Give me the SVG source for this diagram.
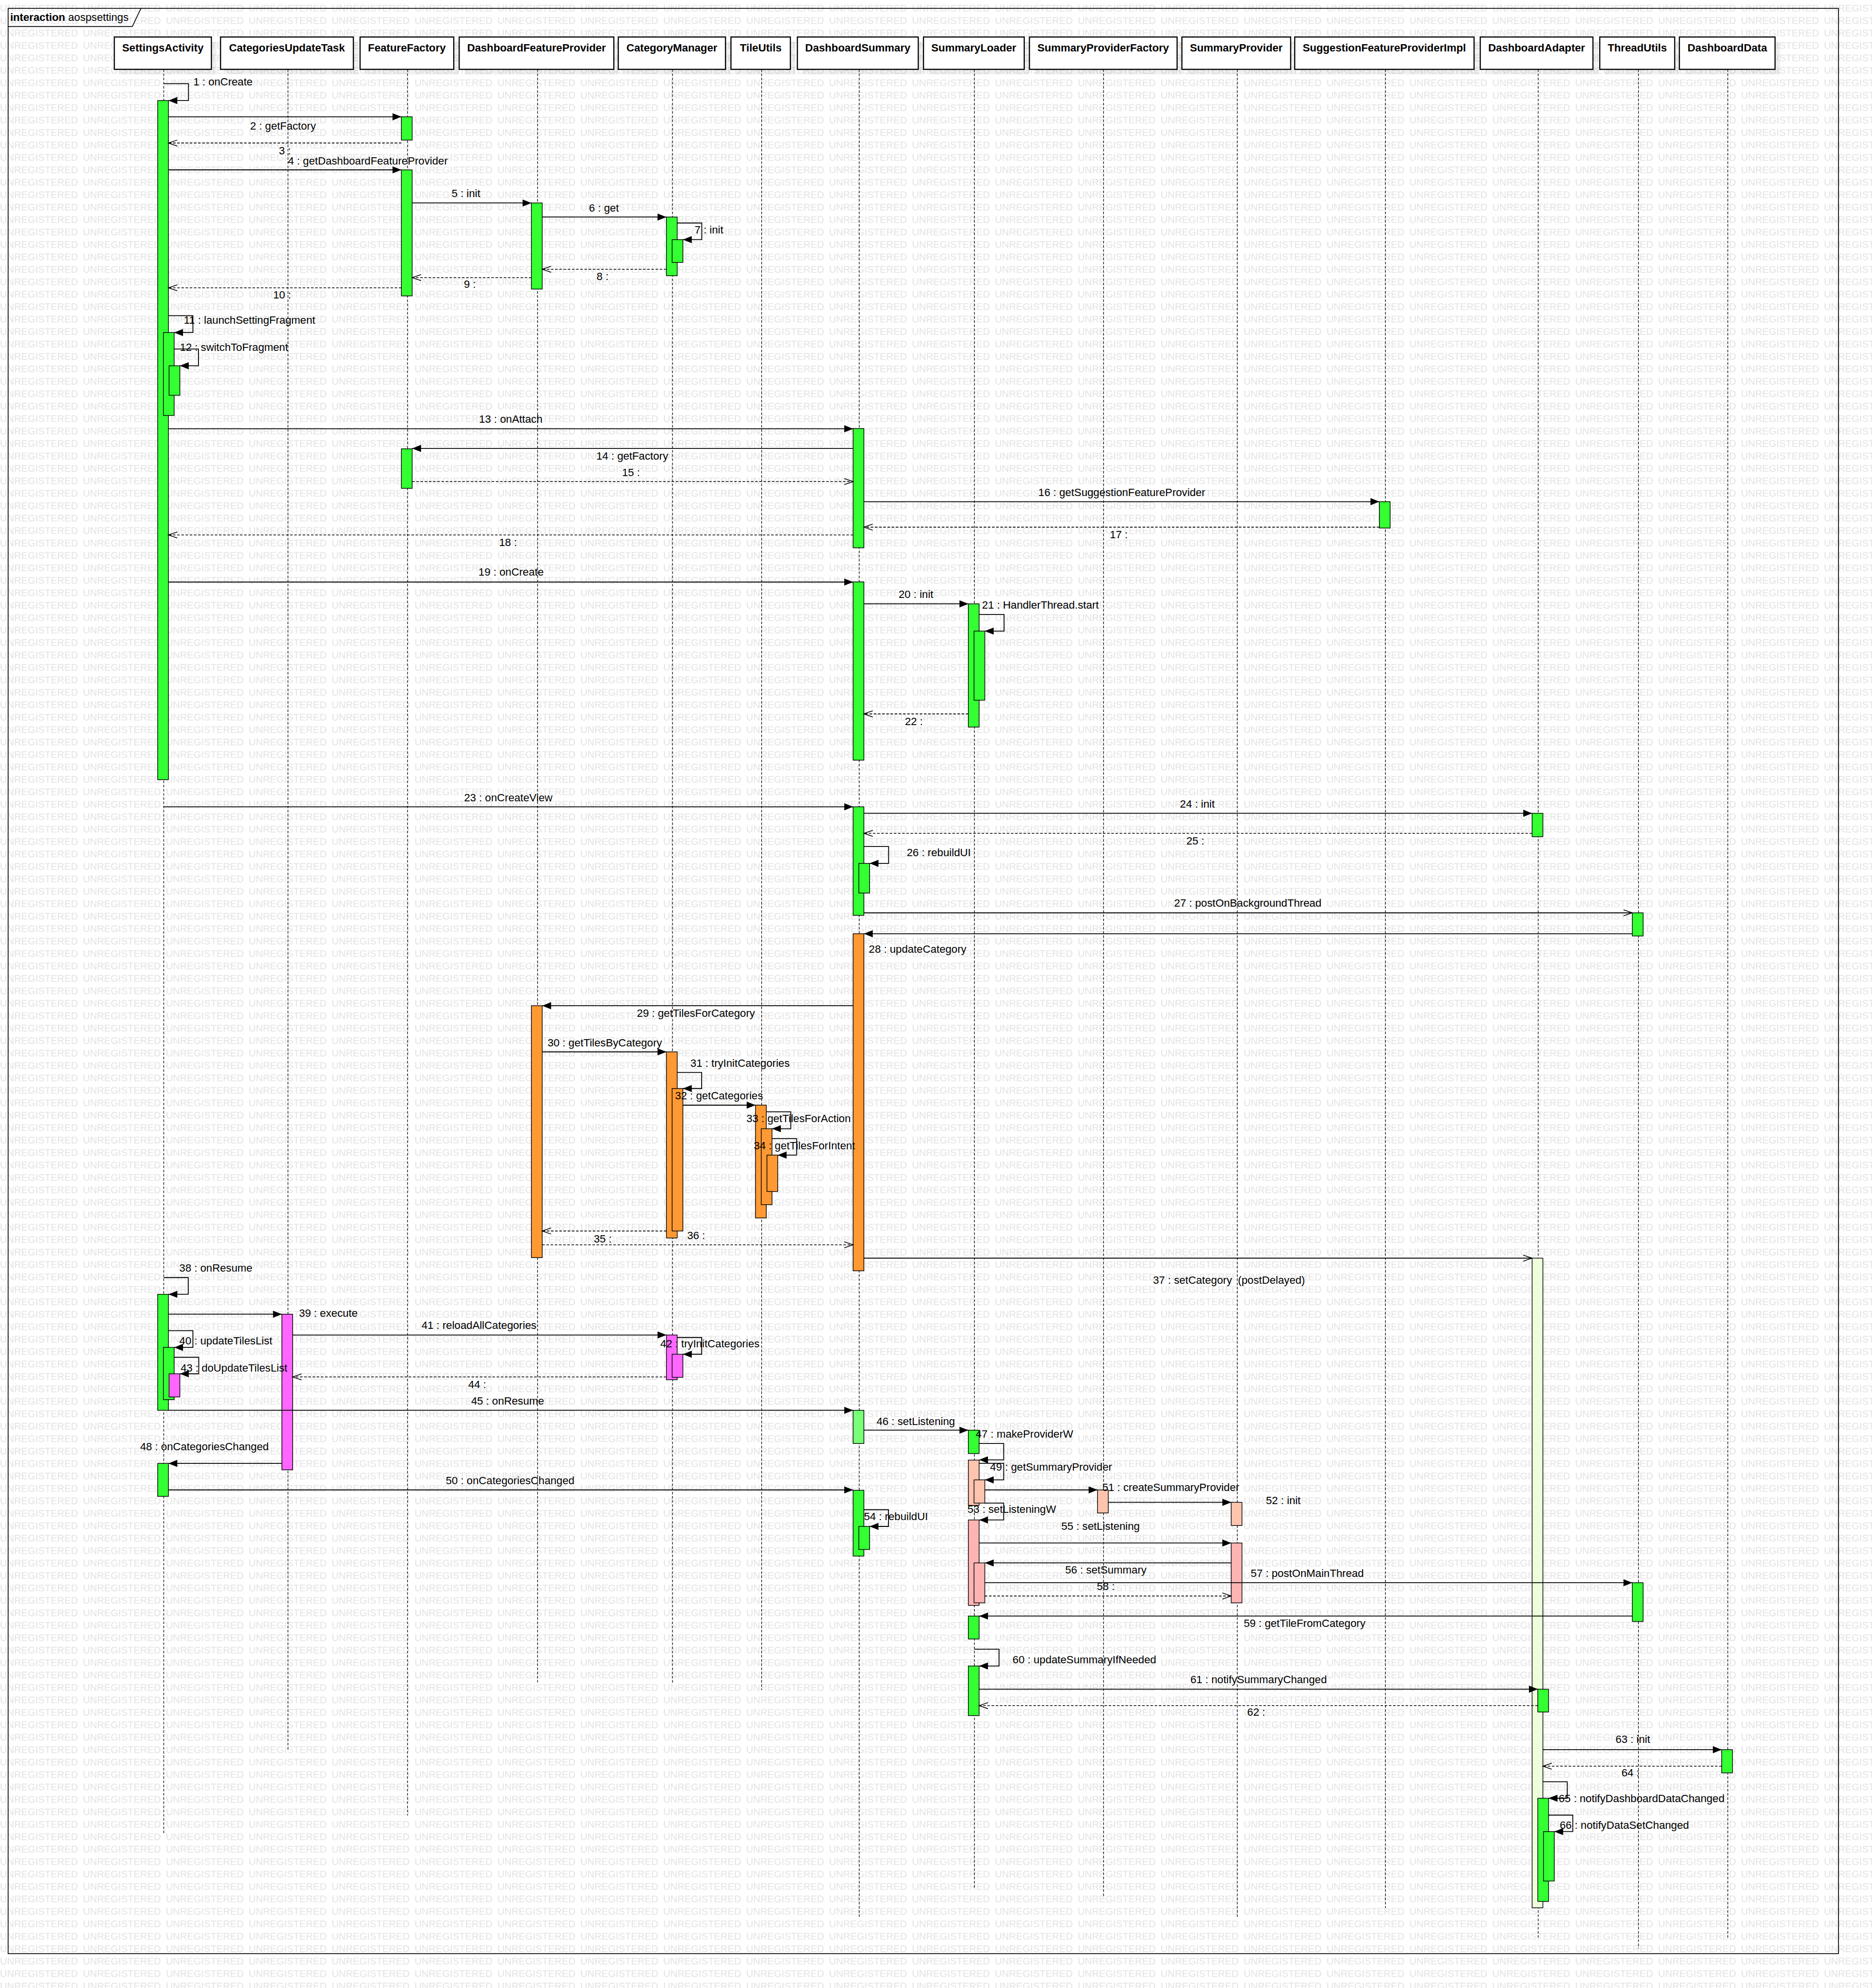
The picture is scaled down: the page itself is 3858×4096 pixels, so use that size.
<svg xmlns="http://www.w3.org/2000/svg" width="3858" height="4096" viewBox="0 0 3858 4096">
<defs>
<style>
.hb{fill:#fff;stroke:#000;stroke-width:0.9}
.sh{fill:#000;fill-opacity:0.06}
.ht{font-family:"Liberation Sans",Arial,sans-serif;font-weight:bold;font-size:8.5px;text-anchor:middle;fill:#000}
.ll{stroke:#000;stroke-width:0.5;stroke-dasharray:2 1.3;fill:none}
.b{stroke:#000;stroke-width:0.55}
.g{fill:#33ff33}.o{fill:#ff9933}.m{fill:#ff66ff}.s{fill:#ffc4ae}.p{fill:#ffb4b4}.pg{fill:#eefddb}.lg{fill:#77ff77}
.c{stroke:#000;stroke-width:0.7;fill:none;marker-end:url(#fa)}
.r{stroke:#000;stroke-width:0.6;fill:none;stroke-dasharray:2 1.3;marker-end:url(#oa)}
.a{stroke:#000;stroke-width:0.7;fill:none;marker-end:url(#oa)}
.t{font-family:"Liberation Sans",Arial,sans-serif;font-size:8.5px;fill:#000}
.wm{font-family:"Liberation Sans",Arial,sans-serif;font-size:7.4px;fill:#e2e2e2}
</style>
<marker id="fa" markerUnits="userSpaceOnUse" markerWidth="7" markerHeight="5.6" refX="7" refY="2.8" orient="auto" viewBox="0 0 7 5.6" overflow="visible"><path d="M0,0 L7,2.8 L0,5.6 z" fill="#000"/></marker>
<marker id="oa" markerUnits="userSpaceOnUse" markerWidth="7" markerHeight="4.8" refX="7" refY="2.4" orient="auto" viewBox="0 0 7 4.8" overflow="visible"><path d="M0,0 L7,2.4 L0,4.8" fill="none" stroke="#000" stroke-width="0.6"/></marker>
<pattern id="wmp" patternUnits="userSpaceOnUse" x="0" y="0" width="65.41" height="9.812"><text class="wm" x="0" y="9.2" textLength="61.5" lengthAdjust="spacingAndGlyphs">UNREGISTERED</text></pattern>
</defs>
<g transform="scale(2.6121)">
<rect x="0" y="0" width="1477" height="1568" fill="#fff"/>
<rect x="0" y="0" width="1477" height="1568" fill="url(#wmp)"/>
<g id="frame">
<rect x="6.4" y="6.6" width="1444.1" height="1534.4" fill="none" stroke="#000" stroke-width="0.65"/>
<path d="M6.4,20.9 H104.4 L111.2,6.6" fill="none" stroke="#000" stroke-width="0.65"/>
<text class="t" x="8" y="16.3"><tspan font-weight="bold">interaction</tspan> aospsettings</text>
</g>
<g id="SettingsActivity">
<rect class="sh" x="94.2" y="33.2" width="76.6" height="25.5"/><rect class="hb" x="90.2" y="29.2" width="76.6" height="25.5"/><text class="ht" x="128.5" y="40.4">SettingsActivity</text>
<line class="ll" x1="129.2" y1="54.7" x2="129.2" y2="1447"/>
<rect class="b g" x="124.4" y="79.3" width="8.5" height="535.7"/>
<rect class="b g" x="128.9" y="262.3" width="8.5" height="65.4"/>
<rect class="b g" x="133.4" y="288.5" width="8.5" height="23.3"/>
<rect class="b g" x="124.4" y="1020.9" width="8.5" height="91.5"/>
<rect class="b g" x="128.9" y="1062.8" width="8.5" height="41.2"/>
<rect class="b m" x="133.4" y="1083.6" width="8.5" height="18.3"/>
<rect class="b g" x="124.4" y="1154.3" width="8.5" height="26"/>
</g>
<g id="CategoriesUpdateTask">
<rect class="sh" x="178" y="33.2" width="104.8" height="25.5"/><rect class="hb" x="174" y="29.2" width="104.8" height="25.5"/><text class="ht" x="226.4" y="40.4">CategoriesUpdateTask</text>
<line class="ll" x1="227.2" y1="54.7" x2="227.2" y2="1380"/>
<rect class="b m" x="222.4" y="1036.6" width="8.5" height="122.8"/>
</g>
<g id="FeatureFactory">
<rect class="sh" x="288.1" y="33.2" width="73.9" height="25.5"/><rect class="hb" x="284.1" y="29.2" width="73.9" height="25.5"/><text class="ht" x="321" y="40.4">FeatureFactory</text>
<line class="ll" x1="321.5" y1="54.7" x2="321.5" y2="1432"/>
<rect class="b g" x="316.7" y="92.1" width="8.5" height="18.4"/>
<rect class="b g" x="316.7" y="134" width="8.5" height="99.4"/>
<rect class="b g" x="316.7" y="354" width="8.5" height="31.2"/>
</g>
<g id="DashboardFeatureProvider">
<rect class="sh" x="366.3" y="33.2" width="122" height="25.5"/><rect class="hb" x="362.3" y="29.2" width="122" height="25.5"/><text class="ht" x="423.3" y="40.4">DashboardFeatureProvider</text>
<line class="ll" x1="424.1" y1="54.7" x2="424.1" y2="1327"/>
<rect class="b g" x="419.3" y="160.1" width="8.5" height="67.9"/>
<rect class="b o" x="419.3" y="793.3" width="8.5" height="198.7"/>
</g>
<g id="CategoryManager">
<rect class="sh" x="491.8" y="33.2" width="84.6" height="25.5"/><rect class="hb" x="487.8" y="29.2" width="84.6" height="25.5"/><text class="ht" x="530.1" y="40.4">CategoryManager</text>
<line class="ll" x1="530.6" y1="54.7" x2="530.6" y2="1328"/>
<rect class="b g" x="525.8" y="171.2" width="8.5" height="46.3"/>
<rect class="b g" x="530.3" y="189" width="8.5" height="18"/>
<rect class="b o" x="525.8" y="829.7" width="8.5" height="146.8"/>
<rect class="b o" x="530.3" y="858.6" width="8.5" height="112.4"/>
<rect class="b m" x="525.8" y="1053" width="8.5" height="35.3"/>
<rect class="b m" x="530.3" y="1068.2" width="8.5" height="18.2"/>
</g>
<g id="TileUtils">
<rect class="sh" x="580.7" y="33.2" width="46.9" height="25.5"/><rect class="hb" x="576.7" y="29.2" width="46.9" height="25.5"/><text class="ht" x="600.2" y="40.4">TileUtils</text>
<line class="ll" x1="600.9" y1="54.7" x2="600.9" y2="1333"/>
<rect class="b o" x="596.1" y="871.7" width="8.5" height="89"/>
<rect class="b o" x="600.6" y="890.3" width="8.5" height="59.9"/>
<rect class="b o" x="605.1" y="911.1" width="8.5" height="28.7"/>
</g>
<g id="DashboardSummary">
<rect class="sh" x="633.1" y="33.2" width="95.4" height="25.5"/><rect class="hb" x="629.1" y="29.2" width="95.4" height="25.5"/><text class="ht" x="676.8" y="40.4">DashboardSummary</text>
<line class="ll" x1="677.9" y1="54.7" x2="677.9" y2="1513"/>
<rect class="b g" x="673.1" y="338" width="8.5" height="94.1"/>
<rect class="b g" x="673.1" y="459" width="8.5" height="140.6"/>
<rect class="b g" x="673.1" y="636.4" width="8.5" height="85.6"/>
<rect class="b g" x="677.6" y="681" width="8.5" height="23.4"/>
<rect class="b o" x="673.1" y="736.5" width="8.5" height="265.9"/>
<rect class="b lg" x="673.1" y="1112.4" width="8.5" height="26.2"/>
<rect class="b g" x="673.1" y="1175.5" width="8.5" height="51.9"/>
<rect class="b g" x="677.6" y="1204" width="8.5" height="18.2"/>
</g>
<g id="SummaryLoader">
<rect class="sh" x="732.6" y="33.2" width="79.5" height="25.5"/><rect class="hb" x="728.6" y="29.2" width="79.5" height="25.5"/><text class="ht" x="768.3" y="40.4">SummaryLoader</text>
<line class="ll" x1="768.8" y1="54.7" x2="768.8" y2="1490"/>
<rect class="b g" x="764" y="476.3" width="8.5" height="97.2"/>
<rect class="b g" x="768.5" y="497.8" width="8.5" height="54.5"/>
<rect class="b g" x="764" y="1128.1" width="8.5" height="18.4"/>
<rect class="b s" x="764" y="1151.7" width="8.5" height="35.7"/>
<rect class="b s" x="768.5" y="1167.3" width="8.5" height="18.3"/>
<rect class="b p" x="764" y="1198.9" width="8.5" height="67.4"/>
<rect class="b p" x="768.5" y="1232.8" width="8.5" height="31.5"/>
<rect class="b g" x="764" y="1274.7" width="8.5" height="18.1"/>
<rect class="b g" x="764" y="1314.1" width="8.5" height="39.1"/>
</g>
<g id="SummaryProviderFactory">
<rect class="sh" x="816.2" y="33.2" width="116.5" height="25.5"/><rect class="hb" x="812.2" y="29.2" width="116.5" height="25.5"/><text class="ht" x="870.4" y="40.4">SummaryProviderFactory</text>
<line class="ll" x1="870.7" y1="54.7" x2="870.7" y2="1497"/>
<rect class="b s" x="865.9" y="1175.2" width="8.5" height="18.2"/>
</g>
<g id="SummaryProvider">
<rect class="sh" x="936.5" y="33.2" width="85.8" height="25.5"/><rect class="hb" x="932.5" y="29.2" width="85.8" height="25.5"/><text class="ht" x="975.4" y="40.4">SummaryProvider</text>
<line class="ll" x1="976.2" y1="54.7" x2="976.2" y2="1513"/>
<rect class="b s" x="971.4" y="1185" width="8.5" height="18.3"/>
<rect class="b p" x="971.4" y="1217.1" width="8.5" height="47.2"/>
</g>
<g id="SuggestionFeatureProviderImpl">
<rect class="sh" x="1025.5" y="33.2" width="141.5" height="25.5"/><rect class="hb" x="1021.5" y="29.2" width="141.5" height="25.5"/><text class="ht" x="1092.2" y="40.4">SuggestionFeatureProviderImpl</text>
<line class="ll" x1="1093.1" y1="54.7" x2="1093.1" y2="1505"/>
<rect class="b g" x="1088.3" y="395.7" width="8.5" height="20.8"/>
</g>
<g id="DashboardAdapter">
<rect class="sh" x="1171.9" y="33.2" width="88.9" height="25.5"/><rect class="hb" x="1167.9" y="29.2" width="88.9" height="25.5"/><text class="ht" x="1212.4" y="40.4">DashboardAdapter</text>
<line class="ll" x1="1213.6" y1="54.7" x2="1213.6" y2="1530"/>
<rect class="b g" x="1208.8" y="641.5" width="8.5" height="18.5"/>
<rect class="b pg" x="1208.8" y="992.4" width="8.5" height="512.4"/>
<rect class="b g" x="1213.3" y="1332.4" width="8.5" height="18"/>
<rect class="b g" x="1213.3" y="1418.4" width="8.5" height="81.4"/>
<rect class="b g" x="1217.8" y="1444.7" width="8.5" height="39"/>
</g>
<g id="ThreadUtils">
<rect class="sh" x="1266.2" y="33.2" width="59.1" height="25.5"/><rect class="hb" x="1262.2" y="29.2" width="59.1" height="25.5"/><text class="ht" x="1291.8" y="40.4">ThreadUtils</text>
<line class="ll" x1="1292.7" y1="54.7" x2="1292.7" y2="1537"/>
<rect class="b g" x="1287.9" y="720" width="8.5" height="18.3"/>
<rect class="b g" x="1287.9" y="1248.4" width="8.5" height="30.6"/>
</g>
<g id="DashboardData">
<rect class="sh" x="1329" y="33.2" width="75.5" height="25.5"/><rect class="hb" x="1325" y="29.2" width="75.5" height="25.5"/><text class="ht" x="1362.8" y="40.4">DashboardData</text>
<line class="ll" x1="1363.2" y1="54.7" x2="1363.2" y2="1529"/>
<rect class="b g" x="1358.4" y="1380.1" width="8.5" height="18.3"/>
</g>
<g id="connectors">
<path class="c" d="M129.2,66 H148.7 V79.3 H132.9"/><text class="t" x="152.6" y="67.2">1 : onCreate</text>
<path class="c" d="M132.9,92.1 H316.7"/><text class="t" x="223.3" y="102.2" text-anchor="middle">2 : getFactory</text>
<path class="r" d="M316.7,112.8 H132.9"/><text class="t" x="220" y="121.9">3 :</text>
<path class="c" d="M132.9,134 H316.7"/><text class="t" x="227.2" y="129.9">4 : getDashboardFeatureProvider</text>
<path class="c" d="M325.2,160.1 H419.3"/><text class="t" x="356.3" y="155.5">5 : init</text>
<path class="c" d="M427.8,171.2 H525.8"/><text class="t" x="464.7" y="166.8">6 : get</text>
<path class="c" d="M534.3,175.9 H553.7 V189 H538.8"/><text class="t" x="548" y="184">7 : init</text>
<path class="r" d="M525.8,212.4 H427.8"/><text class="t" x="470.7" y="221">8 :</text>
<path class="r" d="M419.3,219 H325.2"/><text class="t" x="366" y="227">9 :</text>
<path class="r" d="M316.7,227 H132.9"/><text class="t" x="215.5" y="235.5">10 :</text>
<path class="c" d="M132.9,249 H152.2 V262.3 H137.4"/><text class="t" x="145" y="255.5">11 : launchSettingFragment</text>
<path class="c" d="M137.4,275.3 H156.6 V288.5 H141.9"/><text class="t" x="141.9" y="276.6">12 : switchToFragment</text>
<path class="c" d="M132.9,338.2 H673.1"/><text class="t" x="403" y="333.6" text-anchor="middle">13 : onAttach</text>
<path class="c" d="M673.1,353.7 H325.2"/><text class="t" x="470.5" y="362.4">14 : getFactory</text>
<path class="r" d="M325.2,379.9 H673.1"/><text class="t" x="490.8" y="375.4">15 :</text>
<path class="c" d="M681.6,395.7 H1088.3"/><text class="t" x="819.2" y="391.2">16 : getSuggestionFeatureProvider</text>
<path class="r" d="M1088.3,415.8 H681.6"/><text class="t" x="875.6" y="424.6">17 :</text>
<path class="r" d="M673.1,422 H132.9"/><text class="t" x="393.7" y="430.7">18 :</text>
<path class="c" d="M132.9,459.1 H673.1"/><text class="t" x="377.5" y="454.2">19 : onCreate</text>
<path class="c" d="M681.6,476.3 H764"/><text class="t" x="709" y="471.6">20 : init</text>
<path class="c" d="M772.5,484.7 H792.2 V497.8 H777"/><text class="t" x="774.8" y="480">21 : HandlerThread.start</text>
<path class="r" d="M764,563.1 H681.6"/><text class="t" x="714" y="572">22 :</text>
<path class="c" d="M129.2,636.4 H673.1"/><text class="t" x="401" y="632" text-anchor="middle">23 : onCreateView</text>
<path class="c" d="M681.6,641.5 H1208.8"/><text class="t" x="931" y="637.1">24 : init</text>
<path class="r" d="M1208.8,657.3 H681.6"/><text class="t" x="936" y="666">25 :</text>
<path class="c" d="M681.6,667.7 H701.1 V681 H686.1"/><text class="t" x="715.4" y="675.3">26 : rebuildUI</text>
<path class="a" d="M681.6,720 H1287.9"/><text class="t" x="926.4" y="715">27 : postOnBackgroundThread</text>
<path class="c" d="M1287.9,736.5 H681.6"/><text class="t" x="685.5" y="751.6">28 : updateCategory</text>
<path class="c" d="M673.1,793.3 H427.8"/><text class="t" x="502.5" y="802.2">29 : getTilesForCategory</text>
<path class="c" d="M427.8,829.7 H525.8"/><text class="t" x="432" y="825.5">30 : getTilesByCategory</text>
<path class="c" d="M534.3,845.9 H553.6 V858.6 H538.8"/><text class="t" x="544.7" y="841.4">31 : tryInitCategories</text>
<path class="c" d="M538.8,871.7 H596.1"/><text class="t" x="532.6" y="867.2">32 : getCategories</text>
<path class="c" d="M604.6,876.9 H623.9 V890.3 H609.1"/><text class="t" x="588.9" y="885">33 : getTilesForAction</text>
<path class="c" d="M609.1,898.1 H628.5 V911.1 H613.6"/><text class="t" x="594.7" y="906.5">34 : getTilesForIntent</text>
<path class="r" d="M525.8,971 H427.8"/><text class="t" x="468.5" y="979.9">35 :</text>
<path class="r" d="M427.8,981.9 H673.1"/><text class="t" x="542.2" y="977.4">36 :</text>
<path class="a" d="M681.6,992.4 H1208.8"/><text class="t" x="909.7" y="1012.6" xml:space="preserve">37 : setCategory  (postDelayed)</text>
<path class="c" d="M129.2,1007.7 H148.5 V1020.9 H132.9"/><text class="t" x="141.5" y="1003">38 : onResume</text>
<path class="c" d="M132.9,1036.6 H222.4"/><text class="t" x="235.9" y="1038.7">39 : execute</text>
<path class="c" d="M132.9,1049.6 H152.2 V1062.8 H137.4"/><text class="t" x="141.5" y="1060.6">40 : updateTilesList</text>
<path class="c" d="M230.9,1053 H525.8"/><text class="t" x="332.6" y="1048.2">41 : reloadAllCategories</text>
<path class="c" d="M534.3,1055 H553.6 V1068.2 H538.8"/><text class="t" x="520.9" y="1062.8">42 : tryInitCategories</text>
<path class="c" d="M137.4,1070.6 H156.8 V1083.6 H141.9"/><text class="t" x="142.5" y="1081.8">43 : doUpdateTilesList</text>
<path class="r" d="M525.8,1086.1 H230.9"/><text class="t" x="369.4" y="1094.9">44 :</text>
<path class="c" d="M132.9,1112.4 H673.1"/><text class="t" x="371.7" y="1108">45 : onResume</text>
<path class="c" d="M681.6,1128.1 H764"/><text class="t" x="691.6" y="1123.9">46 : setListening</text>
<path class="c" d="M772.5,1138.6 H791.9 V1151.5 H772.5"/><text class="t" x="769.8" y="1134.1">47 : makeProviderW</text>
<path class="c" d="M222.4,1154.3 H132.9"/><text class="t" x="110.5" y="1143.8">48 : onCategoriesChanged</text>
<path class="c" d="M772.5,1154.2 H791.9 V1167.3 H777"/><text class="t" x="781.1" y="1159.9">49 : getSummaryProvider</text>
<path class="c" d="M132.9,1175.2 H673.1"/><text class="t" x="351.7" y="1170.8">50 : onCategoriesChanged</text>
<path class="c" d="M777,1175.2 H865.9"/><text class="t" x="869.7" y="1176.2">51 : createSummaryProvider</text>
<path class="c" d="M874.4,1185 H971.4"/><text class="t" x="998.8" y="1186.3">52 : init</text>
<path class="c" d="M777,1185.6 H791.9 V1198.9 H772.5"/><text class="t" x="763.3" y="1193.4">53 : setListeningW</text>
<path class="c" d="M681.6,1190.8 H701 V1204 H686.1"/><text class="t" x="681.6" y="1199.2">54 : rebuildUI</text>
<path class="c" d="M772.5,1217.1 H971.4"/><text class="t" x="837.4" y="1206.7">55 : setListening</text>
<path class="c" d="M971.4,1232.8 H777"/><text class="t" x="840.4" y="1241.3">56 : setSummary</text>
<path class="c" d="M777,1248.4 H1287.9"/><text class="t" x="986.8" y="1244">57 : postOnMainThread</text>
<path class="r" d="M777,1258.9 H971.4"/><text class="t" x="865.4" y="1254.1">58 :</text>
<path class="c" d="M1287.9,1274.7 H772.5"/><text class="t" x="981.3" y="1283.3">59 : getTileFromCategory</text>
<path class="c" d="M768.8,1300.8 H788.2 V1314.1 H772.5"/><text class="t" x="798.9" y="1312">60 : updateSummaryIfNeeded</text>
<path class="c" d="M772.5,1332.4 H1213.3"/><text class="t" x="939.2" y="1327.7">61 : notifySummaryChanged</text>
<path class="r" d="M1213.3,1345.4 H772.5"/><text class="t" x="984" y="1353.5">62 :</text>
<path class="c" d="M1217.3,1380.1 H1358.4"/><text class="t" x="1274.6" y="1374.6">63 : init</text>
<path class="r" d="M1358.4,1393.1 H1217.3"/><text class="t" x="1279.3" y="1401.2">64 :</text>
<path class="c" d="M1217.3,1405.4 H1236.5 V1418.4 H1221.8"/><text class="t" x="1229.8" y="1421.5">65 : notifyDashboardDataChanged</text>
<path class="c" d="M1221.8,1431.7 H1240.9 V1444.7 H1226.3"/><text class="t" x="1230.6" y="1442.7">66 : notifyDataSetChanged</text>
</g>
</g>
</svg>
